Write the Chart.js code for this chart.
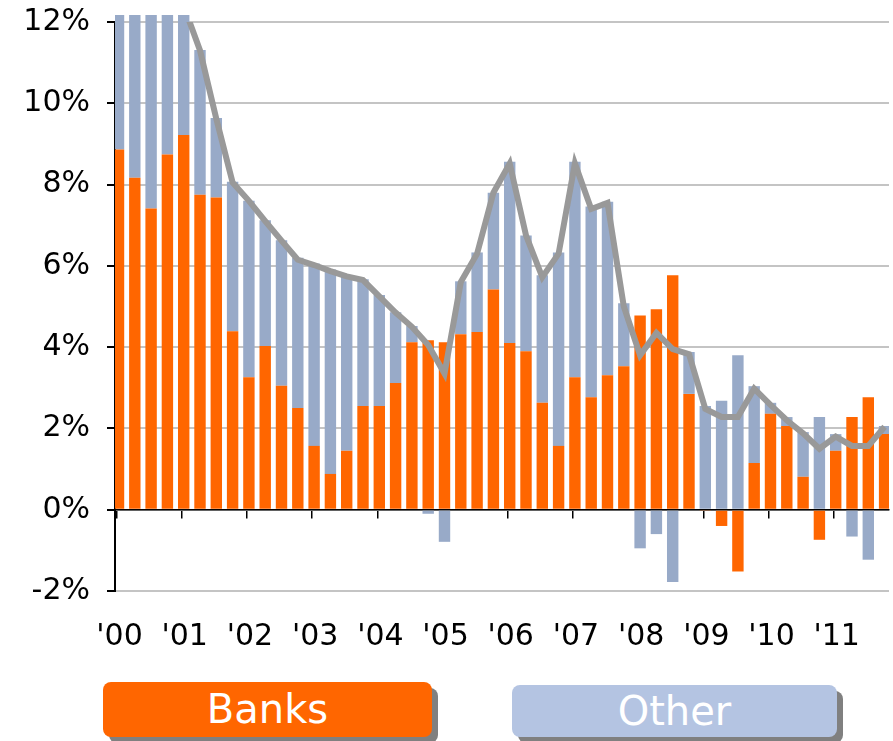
<!DOCTYPE html>
<html lang="en">
<head>
<meta charset="UTF-8">
<title>Banks and Other</title>
<script src="https://cdn.jsdelivr.net/npm/chart.js@4.4.1/dist/chart.umd.min.js"></script>
<style>
  body { margin: 0; background: #fff; font-family: "DejaVu Sans", sans-serif; }
  #wrap { position: relative; width: 893px; height: 741px; }
  #chart { position: absolute; left: 0; top: 0; }
  .key { position: absolute; color: #fff; font-size: 40px; text-align: center; border-radius: 8px; box-shadow: 6px 6px 0 #808080; }
</style>
</head>
<body>
<div id="wrap">
  <canvas id="chart" width="893" height="660"></canvas>
</div>

<script>
// years on the axis, one bar per quarter
const years = ["'00", "'01", "'02", "'03", "'04", "'05", "'06", "'07", "'08", "'09", "'10", "'11"];
const quarters = [];
years.forEach(y => ['Q1', 'Q2', 'Q3', 'Q4'].forEach(q => quarters.push(y + ' ' + q)));

// contribution, % points
const banks = [8.86, 8.17, 7.41, 8.74, 9.22, 7.75, 7.68, 4.39, 3.26, 4.03, 3.05, 2.5,
               1.57, 0.88, 1.45, 2.55, 2.55, 3.12, 4.12, 4.17, 4.12, 4.32, 4.37, 5.42,
               4.1, 3.9, 2.63, 1.57, 3.26, 2.77, 3.31, 3.53, 4.78, 4.93, 5.77, 2.85,
               -0.03, -0.4, -1.52, 1.15, 2.36, 2.06, 0.81, -0.74, 1.45, 2.28, 2.77, 1.86];
const other = [5.7, 5.8, 6.0, 4.3, 3.2, 3.56, 1.96, 3.68, 4.34, 3.09, 3.58, 3.7,
               4.49, 5.03, 4.32, 3.12, 2.73, 1.74, 0.4, -0.1, -0.79, 1.3, 1.96, 2.38,
               4.46, 2.85, 3.14, 4.76, 5.3, 4.69, 4.27, 1.55, -0.95, -0.6, -1.78, 1.03,
               2.55, 2.68, 3.8, 1.89, 0.27, 0.22, 1.1, 2.28, 0.41, -0.66, -1.23, 0.2];
// total growth line
const total = [14.6, 14.0, 13.4, 13.0, 12.4, 11.3, 9.62, 8.05, 7.6, 7.1, 6.62, 6.15,
               6.02, 5.87, 5.74, 5.65, 5.25, 4.85, 4.5, 4.05, 3.35, 5.6, 6.3, 7.8,
               8.52, 6.75, 5.72, 6.3, 8.52, 7.4, 7.55, 5.0, 3.8, 4.35, 3.95, 3.83,
               2.48, 2.28, 2.28, 2.98, 2.58, 2.2, 1.88, 1.5, 1.8, 1.57, 1.57, 2.04];

const seriesNames = ['Banks', 'Other'];
const seriesColors = ['#ff6600', '#98aac8'];
const keyColors = ['#ff6600', '#b4c4e2'];

const yMin = -2, yMax = 12, yStep = 2;

const pts = arr => arr.map((v, i) => ({ x: i, y: v }));
const yearTicks = () => years.map((y, k) => ({ value: k * 4 - 0.12 }));

new Chart(document.getElementById('chart'), {
  type: 'bar',
  data: {
    datasets: [
      {
        type: 'line', label: 'Total', data: pts(total), order: 0, stack: 'total',
        borderColor: '#999999', borderWidth: 6, pointRadius: 0, tension: 0, clip: 0
      },
      {
        label: seriesNames[0], data: pts(banks), order: 1, stack: 'bars',
        backgroundColor: seriesColors[0], barPercentage: 0.7, categoryPercentage: 1,
        clip: { left: 0, top: 7, right: 0, bottom: 0 }
      },
      {
        label: seriesNames[1], data: pts(other), order: 1, stack: 'bars',
        backgroundColor: seriesColors[1], barPercentage: 0.7, categoryPercentage: 1,
        clip: { left: 0, top: 7, right: 0, bottom: 0 }
      }
    ]
  },
  options: {
    responsive: false,
    animation: false,
    layout: { padding: { top: 22, right: 4, left: 0, bottom: 0 } },
    plugins: { legend: { display: false }, tooltip: { enabled: false } },
    scales: {
      x: {
        type: 'linear', min: -0.215, max: 47.27, stacked: true, offset: false,
        grid: { display: false, drawTicks: false, offset: false },
        border: { display: false },
        afterBuildTicks: s => { s.ticks = yearTicks(); },
        afterFit: s => { s.height = 69; s.paddingLeft = 0; s.paddingRight = 0; },
        ticks: {
          autoSkip: false, maxRotation: 0, padding: 28, labelOffset: 3,
          color: '#000', font: { family: 'DejaVu Sans', size: 30 },
          callback: (v, i) => years[i]
        }
      },
      x2: {
        type: 'linear', min: -0.215, max: 47.27, position: { y: 0 }, z: 1, offset: false,
        afterBuildTicks: s => { s.ticks = yearTicks(); },
        grid: { drawOnChartArea: false, drawTicks: true, offset: false, tickLength: 8, color: '#000', lineWidth: 1.5 },
        border: { color: '#000', width: 1.5 },
        ticks: { display: false }
      },
      y: {
        min: yMin, max: yMax, stacked: true,
        afterFit: s => { s.width = 115; s.paddingTop = 0; s.paddingBottom = 0; },
        grid: { color: '#c4c4c4', lineWidth: 2, tickColor: '#000', tickLength: 8 },
        border: { color: '#000', width: 2 },
        ticks: {
          stepSize: yStep, padding: 17, color: '#000',
          font: { family: 'DejaVu Sans', size: 30 },
          callback: v => v + '%'
        }
      }
    }
  }
});

// legend boxes under the chart
const keyPos = [
  { left: 103, top: 682, width: 329, height: 55 },
  { left: 512, top: 685, width: 325, height: 52 }
];
seriesNames.forEach((name, i) => {
  const d = document.createElement('div');
  d.className = 'key';
  d.textContent = name;
  const p = keyPos[i];
  d.style.left = p.left + 'px';
  d.style.top = p.top + 'px';
  d.style.width = p.width + 'px';
  d.style.height = p.height + 'px';
  d.style.lineHeight = p.height + 'px';
  d.style.background = keyColors[i];
  document.getElementById('wrap').appendChild(d);
});
</script>
</body>
</html>
